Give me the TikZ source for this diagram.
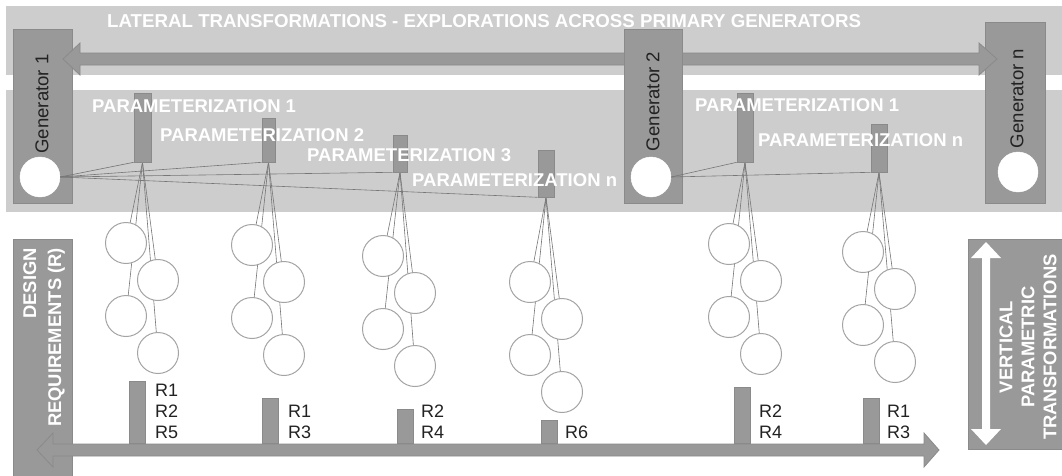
\documentclass[tikz,border=0pt]{standalone}
\usepackage{fontspec}
\setmainfont{Liberation Sans}
\pgfdeclarelayer{bg}
\pgfdeclarelayer{wires}
\pgfsetlayers{bg,wires,main}
\definecolor{band}{HTML}{CDCDCD}
\definecolor{boxfill}{HTML}{999999}
\definecolor{boxline}{HTML}{8A8A8A}
\definecolor{wire}{HTML}{767676}
\definecolor{ring}{HTML}{A4A4A4}
\definecolor{ink}{HTML}{222222}
\tikzset{
  panel/.style={draw=boxline, fill=boxfill, line width=0.8pt, inner sep=0pt},
  gencirc/.style={circle, fill=white, draw=white, minimum size=40pt, inner sep=0pt},
  gentext/.style={rotate=90, inner sep=0pt, text=ink, font=\fontsize{18.6}{22}\selectfont},
  pbar/.style={draw=boxline, fill=boxfill, line width=0.6pt, inner sep=0pt},
  plabel/.style={anchor=west, inner sep=0pt, text=white, font=\bfseries\fontsize{18.5}{22}\selectfont},
  wire/.style={draw=wire, line width=0.6pt},
  bead/.style={circle, draw=ring, fill=white, line width=1pt, minimum size=41pt, inner sep=0pt},
  rbar/.style={draw=boxline, fill=boxfill, line width=0.6pt, inner sep=0pt, minimum width=16pt, anchor=south},
  rlabel/.style={anchor=south west, inner sep=0pt, align=left, text=ink, font=\fontsize{18}{21}\selectfont},
  blockarrow/.style={fill=boxfill, draw=boxline, line width=0.8pt, line join=miter},
}
\begin{document}
\begin{tikzpicture}[x=1pt, y=-1pt]
\useasboundingbox (0,0) rectangle (1062,475);

% background bands
\begin{pgfonlayer}{bg}
  \fill[white] (0,0) rectangle (1062,475);
  \fill[band] (6,6) rectangle (1062,75);
  \fill[band] (6,90) rectangle (1062,212);
\end{pgfonlayer}

% primary generators and the lateral arrow
\node[panel, minimum width=59pt, minimum height=174pt] (g1box) at (42.5,116) {};
\node[panel, minimum width=60pt, minimum height=181pt] (gnbox) at (1015,112.5) {};
\draw[blockarrow] (63,59) -- (80,43) -- (80,53) -- (979,53) -- (979,43) -- (997,59)
  -- (979,75) -- (979,65) -- (80,65) -- (80,75) -- cycle;
\node[panel, minimum width=58pt, minimum height=174pt] (g2box) at (653,116) {};

\node[gencirc] (g1) at (40,177) {};
\node[gencirc] (g2) at (651,177) {};
\node[gencirc] (gn) at (1018,172) {};

\node[gentext] (g1t) at (42,104) {Generator 1};
\node[gentext] (g2t) at (653,101.5) {Generator 2};
\node[gentext] (gnt) at (1017,98.5) {Generator n};

\node[plabel, font=\bfseries\fontsize{18.7}{22}\selectfont] (title) at (107,21) {LATERAL TRANSFORMATIONS - EXPLORATIONS ACROSS PRIMARY GENERATORS};

% parameterization bars
\node[pbar, minimum width=17pt, minimum height=69pt] (pa1) at (142.5,127.5) {};
\node[pbar, minimum width=13pt, minimum height=44pt] (pa2) at (268.5,140) {};
\node[pbar, minimum width=14pt, minimum height=37pt] (pa3) at (400,153.5) {};
\node[pbar, minimum width=16pt, minimum height=47pt] (pa4) at (546,173.5) {};
\node[pbar, minimum width=16pt, minimum height=69pt] (pb1) at (745,127.5) {};
\node[pbar, minimum width=16pt, minimum height=48pt] (pb2) at (879,148) {};

% generator to parameterization links
\foreach \p in {pa1,pa2,pa3,pa4} \draw[wire] (g1.east) -- (\p.south west);
\foreach \p in {pb1,pb2} \draw[wire] (g2.east) -- (\p.south west);

% parameterization labels
\node[plabel] (la1) at (92,106) {PARAMETERIZATION 1};
\node[plabel] (la2) at (160,135) {PARAMETERIZATION 2};
\node[plabel] (la3) at (307,155) {PARAMETERIZATION 3};
\node[plabel] (la4) at (412,180) {PARAMETERIZATION n};
\node[plabel] (lb1) at (695,105) {PARAMETERIZATION 1};
\node[plabel] (lb2) at (758,140) {PARAMETERIZATION n};

% hanging variants under each parameterization
\foreach \b/\x/\y in {pa1/126/243, pa2/252/245, pa3/383/256, pa4/530/282, pb1/729/244, pb2/863/252} {
  \node[bead] (\b-1) at (\x,\y) {};
  \node[bead] (\b-2) at (\x+32,\y+37) {};
  \node[bead] (\b-3) at (\x,\y+73) {};
  \node[bead] (\b-4) at (\x+32,\y+110) {};
  \begin{pgfonlayer}{wires}
    \foreach \j in {1,...,4} \draw[wire] (\b.south) -- (\b-\j.center);
  \end{pgfonlayer}
}

% design requirements axis
\node[panel, minimum width=59pt, minimum height=238pt] (dbox) at (42.5,358) {};
\node[rotate=90, align=right, inner sep=0pt, text=white,
      font=\bfseries\fontsize{18.4}{25}\selectfont] (dtext) at (44,337.5) {DESIGN\\REQUIREMENTS (R)};
\draw[blockarrow] (37,450) -- (53,433) -- (53,444) -- (924,444) -- (924,433) -- (939,450)
  -- (924,467) -- (924,456) -- (53,456) -- (53,467) -- cycle;

\node[rbar, minimum height=62pt] (rb1) at (137,444) {};
\node[rbar, minimum height=45pt] (rb2) at (270.5,444) {};
\node[rbar, minimum height=34pt] (rb3) at (405,444) {};
\node[rbar, minimum height=23pt] (rb4) at (549,444) {};
\node[rbar, minimum height=56pt] (rb5) at (742.5,444) {};
\node[rbar, minimum height=45pt] (rb6) at (871.5,444) {};

\node[rlabel] (rl1) at (155,438.5) {R1\\R2\\R5};
\node[rlabel] (rl2) at (288,438.5) {R1\\R3};
\node[rlabel] (rl3) at (421,438.5) {R2\\R4};
\node[rlabel] (rl4) at (565,438.5) {R6};
\node[rlabel] (rl5) at (759,438.5) {R2\\R4};
\node[rlabel] (rl6) at (887,438.5) {R1\\R3};

% vertical parametric transformations
\node[panel, minimum width=96pt, minimum height=210pt] (vbox) at (1016,344) {};
\fill[white] (986,242) -- (1001,258) -- (990,258) -- (990,429) -- (1001,429) -- (986,445)
  -- (971,429) -- (982,429) -- (982,258) -- (971,258) -- cycle;
\node[rotate=90, align=center, inner sep=0pt, text=white,
      font=\bfseries\fontsize{18.4}{22}\selectfont] (vtext) at (1028,347) {VERTICAL\\PARAMETRIC\\TRANSFORMATIONS};
\end{tikzpicture}
\end{document}
